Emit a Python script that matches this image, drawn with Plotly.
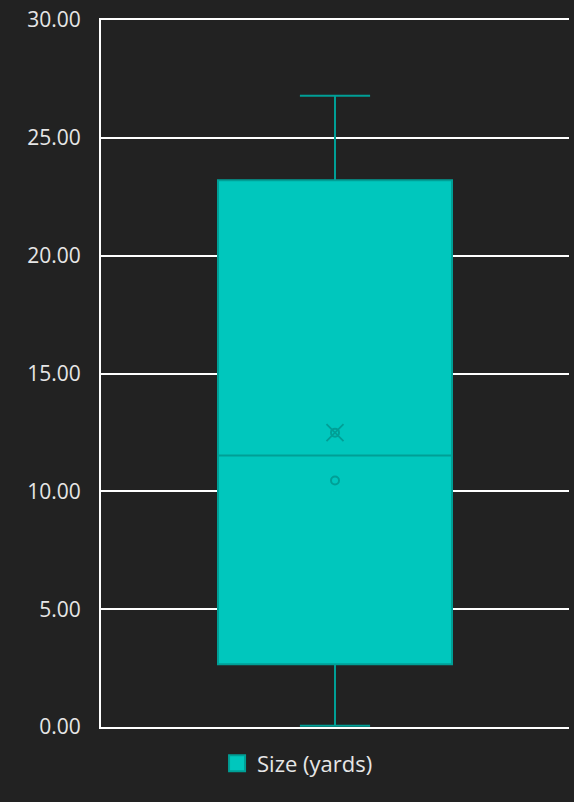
import plotly.graph_objects as go

series_name = "Size (yards)"
q1 = [2.66]
median = [11.52]
q3 = [23.2]
lower_fence = [0.05]
upper_fence = [26.79]
mean_val = [12.49]
inner_points = [12.49, 10.46]
tick_vals = [0, 5, 10, 15, 20, 25, 30]
tick_text = ["0.00", "5.00", "10.00", "15.00", "20.00", "25.00", "30.00"]

fill = "#00C7BD"
edge = "#009F96"
bg = "#222222"
font_family = "'Open Sans', Lato, sans-serif"

fig = go.Figure()
fig.add_trace(go.Box(
    x=[0], q1=q1, median=median, q3=q3,
    lowerfence=lower_fence, upperfence=upper_fence,
    name=series_name, fillcolor=fill,
    line=dict(color=edge, width=2),
    width=1.0, whiskerwidth=0.3, boxpoints=False,
    showlegend=False,
))
fig.add_trace(go.Scatter(
    x=[0] * len(inner_points), y=inner_points, mode="markers",
    marker=dict(symbol="circle-open", size=8, color=edge, line=dict(width=2)),
    showlegend=False, hoverinfo="y",
))
fig.add_trace(go.Scatter(
    x=[0], y=mean_val, mode="markers",
    marker=dict(symbol="x-thin-open", size=17, color=edge, line=dict(width=1.8, color=edge)),
    showlegend=False, hoverinfo="y",
))
# legend entry
fig.add_trace(go.Scatter(
    x=[None], y=[None], mode="markers", name=series_name,
    marker=dict(symbol="square", size=19, color=fill, line=dict(width=2, color=edge)),
    showlegend=True,
))

fig.update_layout(
    width=574, height=802,
    paper_bgcolor=bg, plot_bgcolor=bg,
    margin=dict(l=101, r=5, t=16, b=75),
    font=dict(family=font_family, size=21, color="#E6E6E6"),
    showlegend=True,
    legend=dict(orientation="h", x=0.42, xanchor="center", y=-0.022, yanchor="top",
                itemsizing="trace",
                font=dict(family=font_family, size=22, color="#E6E6E6"), bgcolor="rgba(0,0,0,0)"),
    xaxis=dict(range=[-1, 1], showticklabels=False, showgrid=False, zeroline=False,
               showline=True, mirror=True, linecolor="#FFFFFF", linewidth=2, fixedrange=True),
    yaxis=dict(range=[0, 30], tickvals=tick_vals, ticktext=tick_text,
               showgrid=True, gridcolor="#FFFFFF", gridwidth=2,
               zeroline=False, showline=True, linecolor="#FFFFFF", linewidth=2,
               ticks="", ticklen=0, ticklabelstandoff=14,
               tickfont=dict(family=font_family, size=21, color="#E6E6E6")),
)

fig.write_html("out.html", config={"displayModeBar": False},
               post_script="document.body.style.margin='0';document.body.style.background='#222222';")
